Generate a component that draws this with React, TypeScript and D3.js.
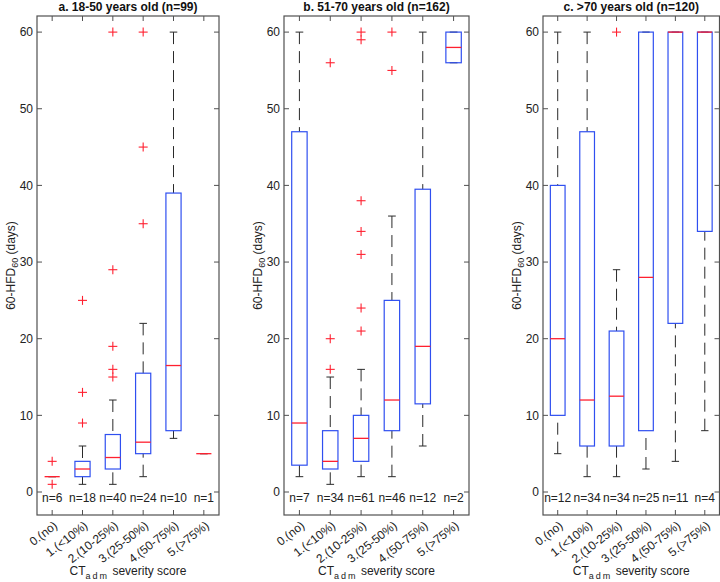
import React from 'react';
import * as d3 from 'd3';

const categories = ['0.(no)', '1.(<10%)', '2.(10-25%)', '3.(25-50%)', '4.(50-75%)', '5.(>75%)'];
const panelTitles = ['a. 18-50 years old (n=99)', 'b. 51-70 years old (n=162)', 'c. >70 years old (n=120)'];
const yTicks = [0, 10, 20, 30, 40, 50, 60];
const counts = [
  [6, 18, 40, 24, 10, 1],
  [7, 34, 61, 46, 12, 2],
  [12, 34, 34, 25, 11, 4],
];
const q1 = [
  [2, 2, 3, 5, 8, 5],
  [3.5, 3, 4, 8, 11.5, 56],
  [10, 6, 6, 8, 22, 34],
];
const medians = [
  [2, 3, 4.5, 6.5, 16.5, 5],
  [9, 4, 7, 12, 19, 58],
  [20, 12, 12.5, 28, 60, 60],
];
const q3 = [
  [2, 4, 7.5, 15.5, 39, 5],
  [47, 8, 10, 25, 39.5, 60],
  [40, 47, 21, 60, 60, 60],
];
const whiskerLow = [
  [2, 1, 1, 2, 7, 5],
  [2, 1, 2, 2, 6, 56],
  [5, 2, 2, 3, 4, 8],
];
const whiskerHigh = [
  [2, 6, 12, 22, 60, 5],
  [60, 15, 16, 36, 60, 60],
  [60, 60, 29, 60, 60, 60],
];
const outliers = [
  [[1, 4], [9, 13, 25], [15, 16, 19, 29, 60], [35, 45, 60], [], []],
  [[], [16, 20, 56], [21, 24, 31, 34, 38, 59, 60], [55, 60], [], []],
  [[], [], [60], [], [], []],
];

const W = 720;
const H = 582;
const TOP = 16;
const BOTTOM = 515;
const panelsLayout = [
  { left: 37, right: 219 },
  { left: 284, right: 469 },
  { left: 543, right: 719.5 },
];
const FONT = '"Liberation Sans", Arial, Helvetica, sans-serif';
const BLUE = '#2f4ff0';
const RED = '#ff2030';
const AXIS = '#505050';
const WHISK = '#2a2a2a';

const y = d3.scaleLinear().domain([-3, 62.1]).range([BOTTOM, TOP]);

function Panel({ p }: { p: number }) {
  const { left, right } = panelsLayout[p];
  const x = d3.scaleLinear().domain([0.5, 6.5]).range([left, right]);
  const half = x(0.25) - x(0);
  const capHalf = x(0.125) - x(0);
  const cx = (left + right) / 2;
  const tickLen = 5;
  return (
    <g>
      <text x={cx} y={11} textAnchor="middle" fontWeight="bold" fontSize={12} fontFamily={FONT} fill="#111">
        {panelTitles[p]}
      </text>
      {/* y ticks */}
      {yTicks.map((t) => (
        <g key={'yt' + t}>
          <line x1={left} x2={left + tickLen} y1={y(t)} y2={y(t)} stroke={AXIS} />
          <line x1={right} x2={right - tickLen} y1={y(t)} y2={y(t)} stroke={AXIS} />
          <text x={left - 4} y={y(t)} dy="0.35em" textAnchor="end" fontSize={12} fontFamily={FONT} fill="#222">
            {t}
          </text>
        </g>
      ))}
      {/* x ticks */}
      {categories.map((c, i) => (
        <g key={'xt' + i}>
          <line x1={x(i + 1)} x2={x(i + 1)} y1={TOP} y2={TOP + tickLen} stroke={AXIS} />
          <line x1={x(i + 1)} x2={x(i + 1)} y1={BOTTOM} y2={BOTTOM - tickLen} stroke={AXIS} />
          <text
            transform={`translate(${x(i + 1) + 6},${BOTTOM + 12}) rotate(-38)`}
            textAnchor="end"
            fontSize={12}
            fontFamily={FONT}
            fill="#222"
          >
            {c}
          </text>
        </g>
      ))}
      {/* boxes */}
      {categories.map((c, i) => {
        const xc = x(i + 1);
        const lo = whiskerLow[p][i];
        const hi = whiskerHigh[p][i];
        const b1 = q1[p][i];
        const b3 = q3[p][i];
        const m = medians[p][i];
        return (
          <g key={'box' + i}>
            {hi > b3 && (
              <line x1={xc} x2={xc} y1={y(hi)} y2={y(b3)} stroke={WHISK} strokeDasharray="12,7" />
            )}
            {lo < b1 && (
              <line x1={xc} x2={xc} y1={y(lo)} y2={y(b1)} stroke={WHISK} strokeDasharray="12,7" />
            )}
            <line x1={xc - capHalf} x2={xc + capHalf} y1={y(hi)} y2={y(hi)} stroke={WHISK} />
            <line x1={xc - capHalf} x2={xc + capHalf} y1={y(lo)} y2={y(lo)} stroke={WHISK} />
            <rect
              x={xc - half}
              y={y(b3)}
              width={2 * half}
              height={Math.max(0, y(b1) - y(b3))}
              fill="none"
              stroke={BLUE}
              strokeWidth={1.2}
            />
            <line x1={xc - half} x2={xc + half} y1={y(m)} y2={y(m)} stroke={RED} strokeWidth={1.3} />
            {outliers[p][i].map((o, k) => (
              <g key={'o' + k} stroke={RED} strokeWidth={1.1}>
                <line x1={xc - 4.5} x2={xc + 4.5} y1={y(o)} y2={y(o)} />
                <line x1={xc} x2={xc} y1={y(o) - 4.5} y2={y(o) + 4.5} />
              </g>
            ))}
            <text x={xc} y={y(0) + 10} textAnchor="middle" fontSize={12} fontFamily={FONT} fill="#222">
              {'n=' + counts[p][i]}
            </text>
          </g>
        );
      })}
      {/* frame */}
      <rect x={left} y={TOP} width={right - left} height={BOTTOM - TOP} fill="none" stroke={AXIS} strokeWidth={1.2} />
      {/* y label */}
      <text
        transform={`translate(${left - 22},${(TOP + BOTTOM) / 2}) rotate(-90)`}
        textAnchor="middle"
        fontSize={12}
        fontFamily={FONT}
        fill="#222"
      >
        60-HFD
        <tspan fontSize={9} dy={3}>60</tspan>
        <tspan dy={-3}> (days)</tspan>
      </text>
      {/* x label */}
      <text x={cx} y={575} textAnchor="middle" fontSize={12} fontFamily={FONT} fill="#222">
        CT
        <tspan fontSize={9} dy={4} letterSpacing={2}>adm</tspan>
        <tspan dy={-4}> severity score</tspan>
      </text>
    </g>
  );
}

export default function App() {
  return (
    <svg
      width={W}
      height={H}
      viewBox={`0 0 ${W} ${H}`}
      style={{ position: 'absolute', left: 0, top: 0, background: '#fff' }}
    >
      <rect width={W} height={H} fill="#fff" />
      {[0, 1, 2].map((p) => (
        <Panel key={p} p={p} />
      ))}
    </svg>
  );
}
